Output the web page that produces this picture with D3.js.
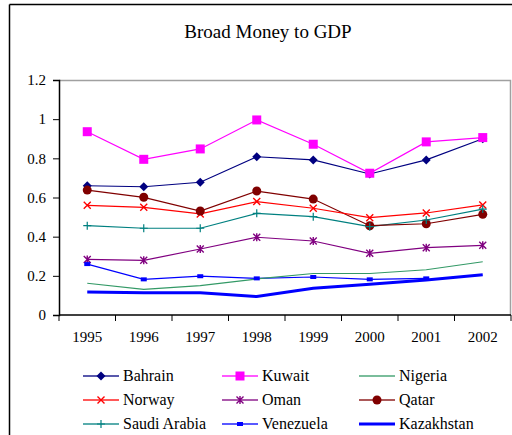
<!DOCTYPE html>
<html>
<head>
<meta charset="utf-8">
<script src="https://cdn.jsdelivr.net/npm/d3@7"></script>
<style>
  body { margin: 0; background: #fff; }
</style>
</head>
<body>
<div id="chart"></div>
<script>
const width = 512, height = 435;
const serif = "'Times New Roman', 'Liberation Serif', serif";

const years = ["1995", "1996", "1997", "1998", "1999", "2000", "2001", "2002"];
const yTicks = [0, 0.2, 0.4, 0.6, 0.8, 1, 1.2];

const bahrain = [0.66, 0.655, 0.678, 0.808, 0.792, 0.72, 0.792, 0.90];
const kuwait = [0.936, 0.795, 0.848, 0.996, 0.872, 0.724, 0.884, 0.906];
const nigeria = [0.162, 0.131, 0.15, 0.184, 0.212, 0.212, 0.231, 0.272];
const norway = [0.56, 0.55, 0.516, 0.579, 0.545, 0.497, 0.521, 0.562];
const oman = [0.284, 0.279, 0.337, 0.397, 0.378, 0.315, 0.344, 0.356];
const qatar = [0.638, 0.601, 0.531, 0.633, 0.592, 0.456, 0.466, 0.514];
const saudiArabia = [0.456, 0.443, 0.443, 0.519, 0.502, 0.451, 0.485, 0.541];
const venezuela = [0.26, 0.182, 0.198, 0.187, 0.194, 0.182, 0.187];
const kazakhstan = [0.117, 0.114, 0.114, 0.094, 0.136, 0.157, 0.179, 0.206];

const series = [
    {name: "Bahrain", values: bahrain, color: "#000080", marker: "diamond"},
    {name: "Kuwait", values: kuwait, color: "#FF00FF", marker: "square"},
    {name: "Nigeria", values: nigeria, color: "#339966", marker: "none"},
    {name: "Norway", values: norway, color: "#FF0000", marker: "x"},
    {name: "Oman", values: oman, color: "#800080", marker: "star"},
    {name: "Qatar", values: qatar, color: "#800000", marker: "circle"},
    {name: "Saudi Arabia", values: saudiArabia, color: "#008080", marker: "plus"},
    {name: "Venezuela", values: venezuela, color: "#0000FF", marker: "dash"},
    {name: "Kazakhstan", values: kazakhstan, color: "#0000FF", marker: "none", thick: true}
];

const margin = {top: 80, right: 1, bottom: 120, left: 59};

const svg = d3.select("#chart").append("svg")
    .attr("width", width)
    .attr("height", height);

// outer chart border (top and left visible)
svg.append("line").attr("x1", 9.5).attr("x2", width).attr("y1", 4.5).attr("y2", 4.5)
    .attr("stroke", "#000").attr("stroke-width", 1.5);
svg.append("line").attr("x1", 9.5).attr("x2", 9.5).attr("y1", 4.5).attr("y2", height)
    .attr("stroke", "#000").attr("stroke-width", 1.5);

svg.append("text")
    .attr("x", 268)
    .attr("y", 38)
    .attr("text-anchor", "middle")
    .style("font-family", serif)
    .style("font-size", "19px")
    .text("Broad Money to GDP");

const x = d3.scaleBand()
    .domain(years)
    .range([margin.left, width - margin.right]);

const y = d3.scaleLinear()
    .domain([0, 1.2])
    .range([height - margin.bottom, margin.top]);

// plot frame (top and right in grey)
svg.append("path")
    .attr("d", `M${margin.left},${y(1.2) + 0.5}H${width - margin.right - 0.5}V${y(0)}`)
    .attr("fill", "none")
    .attr("stroke", "#a0a0a0")
    .attr("stroke-width", 1.5);

const yAxis = svg.append("g")
    .attr("transform", `translate(${margin.left},0)`)
    .call(d3.axisLeft(y).tickValues(yTicks).tickSize(6).tickPadding(7).tickFormat(d3.format("")));
yAxis.select(".domain").attr("stroke", "#000").attr("stroke-width", 1.5);

const xAxis = svg.append("g")
    .attr("transform", `translate(0,${y(0)})`)
    .call(d3.axisBottom(x).tickSize(0).tickPadding(16));
xAxis.select(".domain").attr("stroke", "#000").attr("stroke-width", 1.5).attr("d", `M${margin.left},0H${width - margin.right}`);

svg.selectAll(".tick text")
    .style("font-size", "15px").style("font-family", serif).attr("fill", "#000");

// tick marks between categories
xAxis.selectAll(".sep")
    .data(years.concat(["end"]))
    .join("line")
    .attr("class", "sep")
    .attr("x1", (d, i) => margin.left + i * x.bandwidth())
    .attr("x2", (d, i) => margin.left + i * x.bandwidth())
    .attr("y1", 0).attr("y2", 6)
    .attr("stroke", "#000");

function drawMarker(g, type, color) {
    if (type === "diamond") {
        g.append("path").attr("d", "M0,-4.5L4.5,0L0,4.5L-4.5,0Z").attr("fill", color);
    } else if (type === "square") {
        g.append("rect").attr("x", -4.5).attr("y", -4.5).attr("width", 9).attr("height", 9).attr("fill", color);
    } else if (type === "x") {
        g.append("path").attr("d", "M-3.5,-3.5L3.5,3.5M-3.5,3.5L3.5,-3.5").attr("stroke", color).attr("stroke-width", 1.4);
    } else if (type === "star") {
        g.append("path").attr("d", "M-3.5,-3.5L3.5,3.5M-3.5,3.5L3.5,-3.5M0,-4V4").attr("stroke", color).attr("stroke-width", 1.4);
    } else if (type === "circle") {
        g.append("circle").attr("r", 4.5).attr("fill", color);
    } else if (type === "plus") {
        g.append("path").attr("d", "M-4,0H4M0,-4V4").attr("stroke", color).attr("stroke-width", 1.2);
    } else if (type === "dash") {
        g.append("rect").attr("x", -3).attr("y", -2).attr("width", 6).attr("height", 4).attr("fill", color);
    }
}

const line = d3.line()
    .x((d, i) => x(years[i]) + x.bandwidth() / 2)
    .y(d => y(d));

const lines = svg.append("g");
series.slice().reverse().forEach(s => {
    lines.append("path")
        .datum(s.values)
        .attr("fill", "none")
        .attr("stroke", s.color)
        .attr("stroke-width", s.thick ? 3 : 1.2)
        .attr("d", line);
});
series.forEach(s => {
    s.values.forEach((v, i) => {
        const g = lines.append("g")
            .attr("transform", `translate(${x(years[i]) + x.bandwidth() / 2},${y(v)})`);
        drawMarker(g, s.marker, s.color);
    });
});

// legend
const legend = svg.append("g");
const colX = [83, 222, 359];
const rowY = [376, 400, 424];
series.forEach((s, i) => {
    const lx = colX[i % 3], ly = rowY[Math.floor(i / 3)];
    const g = legend.append("g").attr("transform", `translate(${lx},${ly})`);
    g.append("line").attr("x1", 0).attr("x2", 36).attr("y1", 0).attr("y2", 0)
        .attr("stroke", s.color)
        .attr("stroke-opacity", s.thick ? 1 : 0.65)
        .attr("stroke-width", s.thick ? 3 : 2);
    const m = g.append("g").attr("transform", "translate(18,0)");
    drawMarker(m, s.marker, s.color);
    g.append("text").attr("x", 40).attr("y", 5)
        .style("font-family", serif)
        .style("font-size", "16px")
        .text(s.name);
});
</script>
</body>
</html>
